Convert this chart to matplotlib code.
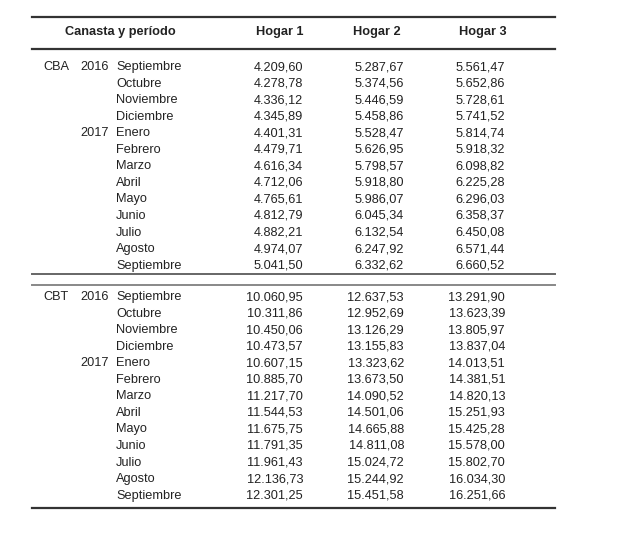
import matplotlib
matplotlib.use("Agg")
import matplotlib.pyplot as plt

plt.rcParams['font.family'] = ['Liberation Sans', 'DejaVu Sans']

# datos
canastas = ["CBA", "CBT"]
anios = {0: "2016", 4: "2017"}
meses = ["Septiembre", "Octubre", "Noviembre", "Diciembre", "Enero", "Febrero",
         "Marzo", "Abril", "Mayo", "Junio", "Julio", "Agosto", "Septiembre"]
columnas = ["Hogar 1", "Hogar 2", "Hogar 3"]

cba_h1 = ["4.209,60", "4.278,78", "4.336,12", "4.345,89", "4.401,31", "4.479,71", "4.616,34",
          "4.712,06", "4.765,61", "4.812,79", "4.882,21", "4.974,07", "5.041,50"]
cba_h2 = ["5.287,67", "5.374,56", "5.446,59", "5.458,86", "5.528,47", "5.626,95", "5.798,57",
          "5.918,80", "5.986,07", "6.045,34", "6.132,54", "6.247,92", "6.332,62"]
cba_h3 = ["5.561,47", "5.652,86", "5.728,61", "5.741,52", "5.814,74", "5.918,32", "6.098,82",
          "6.225,28", "6.296,03", "6.358,37", "6.450,08", "6.571,44", "6.660,52"]
cbt_h1 = ["10.060,95", "10.311,86", "10.450,06", "10.473,57", "10.607,15", "10.885,70", "11.217,70",
          "11.544,53", "11.675,75", "11.791,35", "11.961,43", "12.136,73", "12.301,25"]
cbt_h2 = ["12.637,53", "12.952,69", "13.126,29", "13.155,83", "13.323,62", "13.673,50", "14.090,52",
          "14.501,06", "14.665,88", "14.811,08", "15.024,72", "15.244,92", "15.451,58"]
cbt_h3 = ["13.291,90", "13.623,39", "13.805,97", "13.837,04", "14.013,51", "14.381,51", "14.820,13",
          "15.251,93", "15.425,28", "15.578,00", "15.802,70", "16.034,30", "16.251,66"]

bloques = [(cba_h1, cba_h2, cba_h3), (cbt_h1, cbt_h2, cbt_h3)]

fig = plt.figure(figsize=(6.19, 5.35), dpi=100)
ax = fig.add_axes([0, 0, 1, 1])
ax.set_xlim(0, 619)
ax.set_ylim(535, 0)
ax.axis("off")

fs = 9.2
col = "#222222"

# lineas
ax.plot([32, 555], [17, 17], color="#333333", lw=1.6)
ax.plot([32, 555], [49, 49], color="#333333", lw=1.6)
ax.plot([32, 555], [274, 274], color="#666666", lw=1.4)
ax.plot([32, 555], [285, 285], color="#888888", lw=1.4)
ax.plot([32, 555], [508, 508], color="#333333", lw=1.6)

# encabezado
ax.text(120, 32, "Canasta y período", ha="center", va="center", fontsize=fs, fontweight="bold", color=col)
for x, c in zip([280, 377, 483], columnas):
    ax.text(x, 31.5, c, ha="center", va="center", fontsize=fs, fontweight="bold", color=col)

starts = [67, 297]
step = 16.55
for b, (nombre, y0) in enumerate(zip(canastas, starts)):
    ax.text(43, y0, nombre, ha="left", va="center", fontsize=fs, color=col)
    h1, h2, h3 = bloques[b]
    for i, mes in enumerate(meses):
        y = y0 + i * step
        if i in anios:
            ax.text(109, y, anios[i], ha="right", va="center", fontsize=fs, color=col)
        ax.text(116, y, mes, ha="left", va="center", fontsize=fs, color=col)
        ax.text(303, y, h1[i], ha="right", va="center", fontsize=fs, color=col)
        ax.text(404, y, h2[i], ha="right", va="center", fontsize=fs, color=col)
        ax.text(505, y, h3[i], ha="right", va="center", fontsize=fs, color=col)

fig.savefig("out.png", dpi=100, facecolor="white")
